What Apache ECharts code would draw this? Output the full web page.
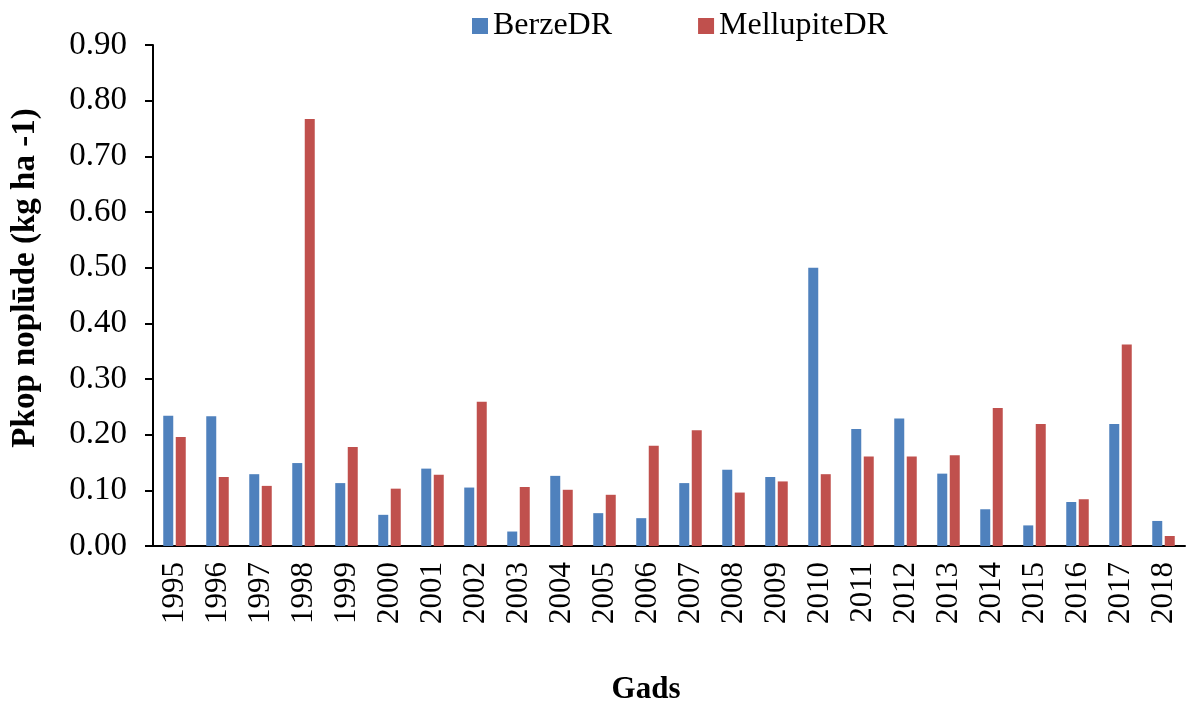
<!DOCTYPE html>
<html>
<head>
<meta charset="utf-8">
<script src="https://cdn.jsdelivr.net/npm/echarts@6/dist/echarts.min.js"></script>
<style>
  html, body { margin: 0; padding: 0; background: #fff; }
  #main { width: 1186px; height: 704px; }
</style>
</head>
<body>
<div id="main"></div>
<script>
// gadi
var years = ['1995','1996','1997','1998','1999','2000','2001','2002','2003','2004','2005','2006',
             '2007','2008','2009','2010','2011','2012','2013','2014','2015','2016','2017','2018'];
// Pkop noplūde, kg/ha
var berze = [0.234,0.233,0.129,0.149,0.113,0.056,0.139,0.105,0.026,0.126,0.059,0.050,
             0.113,0.137,0.124,0.500,0.210,0.229,0.130,0.066,0.037,0.079,0.219,0.045];
var mellupite = [0.196,0.124,0.108,0.767,0.178,0.103,0.128,0.259,0.106,0.101,0.092,0.180,
                 0.208,0.096,0.116,0.129,0.161,0.161,0.163,0.248,0.219,0.084,0.362,0.018];

var font = '"Liberation Serif", "Times New Roman", serif';

var myChart = echarts.init(document.getElementById('main'));
var option = {
    animation: false,
    textStyle: { fontFamily: font, color: '#000' },
    legend: {
        top: 5,
        left: 467,
        itemWidth: 16,
        itemHeight: 16,
        itemGap: 86,
        icon: 'rect',
        textStyle: { fontFamily: font, fontSize: 32, color: '#000' },
        data: ['BerzeDR', 'MellupiteDR']
    },
    grid: { left: 153, right: 1, top: 45, bottom: 158, outerBoundsMode: 'none' },
    // asu nosaukumi
    graphic: [{
        type: 'text',
        x: 25, y: 278,
        rotation: Math.PI / 2,
        style: {
            text: 'Pkop noplūde (kg ha -1)',
            font: 'bold 33px ' + font,
            fill: '#000',
            align: 'center',
            verticalAlign: 'middle'
        }
    }, {
        type: 'text',
        x: 646, y: 690,
        style: {
            text: 'Gads',
            font: 'bold 31px ' + font,
            fill: '#000',
            align: 'center',
            verticalAlign: 'middle'
        }
    }],
    xAxis: {
        type: 'category',
        data: years,
        axisLine: { lineStyle: { color: '#000', width: 2 } },
        axisTick: { alignWithLabel: false, length: 9, lineStyle: { color: '#000', width: 2 } },
        axisLabel: { rotate: 90, margin: 16, fontFamily: font, fontSize: 31, color: '#000' }
    },
    yAxis: {
        type: 'value',
        min: 0,
        max: 0.9,
        interval: 0.1,
        axisLine: { show: true, lineStyle: { color: '#000', width: 2 } },
        axisTick: { show: true, length: 8, lineStyle: { color: '#000', width: 2 } },
        splitLine: { show: false },
        axisLabel: {
            margin: 26,
            fontFamily: font, fontSize: 33, color: '#000',
            formatter: function (v) { return v.toFixed(2); }
        }
    },
    series: [{
        name: 'BerzeDR',
        type: 'bar',
        data: berze,
        barWidth: 10,
        barGap: '25%',
        itemStyle: { color: '#4f81bd' }
    }, {
        name: 'MellupiteDR',
        type: 'bar',
        data: mellupite,
        barWidth: 10,
        itemStyle: { color: '#c0504d' }
    }]
};
myChart.setOption(option);
</script>
</body>
</html>
